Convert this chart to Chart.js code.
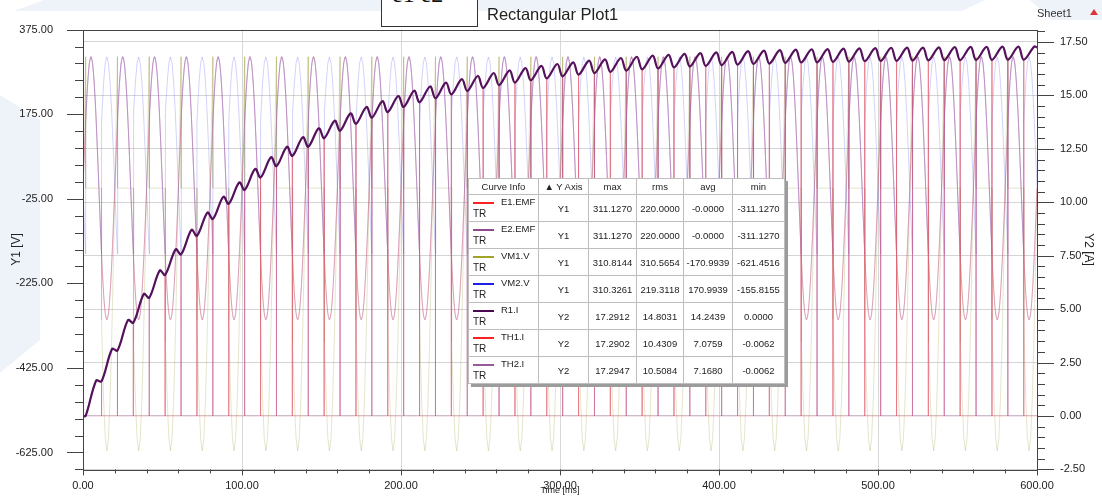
<!DOCTYPE html>
<html>
<head>
<meta charset="utf-8">
<title>Rectangular Plot1</title>
<script src="https://cdn.jsdelivr.net/npm/chart.js@4.4.1/dist/chart.umd.min.js"></script>
<style>
  html, body { margin: 0; padding: 0; background: #fff; }
  #wrap { position: relative; width: 1102px; height: 499px; overflow: hidden;
          font-family: "Liberation Sans", Arial, sans-serif; color: #222; }
  .shade { position: absolute; background: #eef3f9; }
  #plot { position: absolute; left: 0; top: 0; }
  #probe { position: absolute; left: 381px; top: -30px; width: 95px; height: 55px;
           border: 1px solid #333; background: #fff; overflow: hidden; }
  #probe span { position: absolute; left: 10px; bottom: 20px; font: 24px "Liberation Serif", serif; color: #111; line-height: 1; }
  #title { position: absolute; left: 487px; top: 5px; font-size: 16.5px; color: #222; }
  #sheet { position: absolute; left: 1037px; top: 7px; font-size: 11px; color: #333; }
  #sheetIcon { position: absolute; left: 1090px; top: 9px; width: 0; height: 0;
               border-left: 4px solid transparent; border-right: 4px solid transparent;
               border-bottom: 6px solid #d33; }
  #info { position: absolute; left: 468px; top: 178px; border-collapse: collapse; background: #fff;
          border: 1px solid #555; box-shadow: 3px 3px 0 #9c9c9c; font-size: 9.5px; color: #222;
          table-layout: fixed; }
  #info th, #info td { border: 1px solid #bdbdbd; padding: 0; text-align: center; font-weight: normal;
                       white-space: nowrap; overflow: hidden; }
  #info th { height: 15px; }
  #info td { height: 26px; }
  #info td.name { position: relative; text-align: left; }
  .swatch { position: absolute; left: 4px; top: 7px; width: 21px; height: 2px; }
  .cname { position: absolute; left: 32px; top: 1px; }
  .tr { position: absolute; left: 4px; top: 13px; font-size: 10px; }
</style>
</head>
<body>
<div id="wrap">
  <div class="shade" style="left:0;top:0;width:1000px;height:11px;clip-path:polygon(14px 11px,44px 0,985px 0,962px 11px)"></div>
  <div class="shade" style="left:1030px;top:0;width:72px;height:20px;clip-path:polygon(0 0,72px 0,72px 20px,22px 20px)"></div>
  <div class="shade" style="left:0;top:95px;width:40px;height:280px;clip-path:polygon(0 0,40px 25px,40px 245px,0 278px)"></div>
  <canvas id="plot" width="1102" height="499"></canvas>
  <div id="probe"><span>e1 e2</span></div>
  <div id="title">Rectangular Plot1</div>
  <div id="sheet">Sheet1</div>
  <div id="sheetIcon"></div>
  <table id="info"></table>
</div>
<script>
// one 20 ms mains cycle of each source/voltage waveform, [time offset ms, value V]
const PERIOD = 20;
const CYCLES = 30;
const emfCycle = [
  [0, 0], [1, 96.1], [2, 182.8], [3, 251.6], [4, 295.8], [5, 311.1], [6, 295.8], [7, 251.6],
  [8, 182.8], [9, 96.1], [10, 0], [11, -96.1], [12, -182.8], [13, -251.6], [14, -295.8],
  [15, -311.1], [16, -295.8], [17, -251.6], [18, -182.8], [19, -96.1], [20, 0]
];
// load voltage (VM2) with firing at 1.67 ms and 11.67 ms
const vm2Cycle = [
  [0, 0], [1, -96.1], [1.67, -155.5], [1.67, 155.5], [2, 182.8], [3, 251.6], [4, 295.8],
  [5, 310.3], [6, 295.8], [7, 251.6], [8, 182.8], [9, 96.1], [10, 0], [11, -96.1],
  [11.67, -155.5], [11.67, 155.5], [12, 182.8], [13, 251.6], [14, 295.8], [15, 310.3],
  [16, 295.8], [17, 251.6], [18, 182.8], [19, 96.1], [20, 0]
];
// voltage across TH1 (VM1)
const vm1Cycle = [
  [0, 0], [1, 192.2], [1.67, 310.8], [1.67, 0], [11.67, 0], [11.67, -310.8], [12, -365.6],
  [13, -503.2], [14, -591.6], [15, -621.4], [16, -591.6], [17, -503.2], [18, -365.6],
  [19, -192.2], [20, 0]
];

// R1.I ripple crests (at 8.3 ms + 10k) and dips (at the 11.67 ms + 10k commutations), A
const FIRST_FIRING = 1.67;
const CREST_OFFSET = 8.3;
const r1Peaks = [
  1.66, 3.14, 4.49, 5.71, 6.81, 7.80, 8.71, 9.52, 10.26, 10.93,
  11.56, 12.11, 12.60, 13.05, 13.46, 13.82, 14.16, 14.46, 14.73, 14.97,
  15.22, 15.42, 15.60, 15.76, 15.91, 16.05, 16.17, 16.28, 16.38, 16.47,
  16.55, 16.63, 16.69, 16.75, 16.81, 16.86, 16.90, 16.94, 16.98, 17.01,
  17.04, 17.07, 17.10, 17.12, 17.14, 17.16, 17.17, 17.19, 17.20, 17.21,
  17.23, 17.24, 17.24, 17.25, 17.26, 17.27, 17.27, 17.28, 17.28, 17.29
];
const r1Troughs = [
  1.62, 3.06, 4.36, 5.53, 6.60, 7.56, 8.43, 9.22, 9.93, 10.58,
  11.16, 11.69, 12.17, 12.60, 13.00, 13.35, 13.67, 13.96, 14.22, 14.46,
  14.68, 14.87, 15.05, 15.21, 15.35, 15.48, 15.60, 15.71, 15.80, 15.89,
  15.97, 16.04, 16.10, 16.16, 16.22, 16.26, 16.31, 16.35, 16.38, 16.41,
  16.44, 16.47, 16.49, 16.52, 16.54, 16.55, 16.57, 16.58, 16.60, 16.61,
  16.62, 16.63, 16.64, 16.65, 16.65, 16.66, 16.66, 16.67, 16.67
];
const r1End = 17.25;

// axis ticks
const timeTicks = [0, 100, 200, 300, 400, 500, 600];
const y1Ticks = [375, 175, -25, -225, -425, -625];
const y2Ticks = [17.5, 15, 12.5, 10, 7.5, 5, 2.5, 0, -2.5];

// curve info table
const curveNames = ['E1.EMF', 'E2.EMF', 'VM1.V', 'VM2.V', 'R1.I', 'TH1.I', 'TH2.I'];
const curveAxis = ['Y1', 'Y1', 'Y1', 'Y1', 'Y2', 'Y2', 'Y2'];
const curveMax = ['311.1270', '311.1270', '310.8144', '310.3261', '17.2912', '17.2902', '17.2947'];
const curveRms = ['220.0000', '220.0000', '310.5654', '219.3118', '14.8031', '10.4309', '10.5084'];
const curveAvg = ['-0.0000', '-0.0000', '-170.9939', '170.9939', '14.2439', '7.0759', '7.1680'];
const curveMin = ['-311.1270', '-311.1270', '-621.4516', '-155.8155', '0.0000', '-0.0062', '-0.0062'];
const curveColors = ['#ff2020', '#8e4a8e', '#a3a328', '#2020e0', '#4b0a50', '#ff2020', '#9a5a9a'];

function tile(cycle) {
  const pts = [];
  for (let c = 0; c < CYCLES; c++) {
    for (const [t, v] of cycle) {
      if (t === PERIOD && c < CYCLES - 1) continue;
      pts.push({ x: c * PERIOD + t, y: v });
    }
  }
  return pts;
}

function r1Current() {
  const pts = [{ x: 0, y: 0 }, { x: FIRST_FIRING, y: 0 }];
  r1Peaks.forEach((p, k) => {
    pts.push({ x: CREST_OFFSET + 10 * k, y: p });
    if (k < r1Troughs.length) pts.push({ x: FIRST_FIRING + 10 * (k + 1), y: r1Troughs[k] });
  });
  pts.push({ x: 600, y: r1End });
  return pts;
}

// each thyristor carries R1.I in alternate half cycles, zero otherwise
function thyristorCurrent(parity) {
  const pts = [{ x: 0, y: 0 }];
  for (let k = parity; k < r1Peaks.length; k += 2) {
    const s = FIRST_FIRING + 10 * k;
    const start = k === 0 ? 0 : r1Troughs[k - 1];
    pts.push({ x: s, y: 0 }, { x: s, y: start }, { x: CREST_OFFSET + 10 * k, y: r1Peaks[k] });
    if (k < r1Troughs.length) {
      pts.push({ x: s + 10, y: r1Troughs[k] }, { x: s + 10, y: 0 });
    } else {
      pts.push({ x: 600, y: r1End });
    }
  }
  if (pts[pts.length - 1].x < 600) pts.push({ x: 600, y: 0 });
  return pts;
}

const thin = { pointRadius: 0, borderWidth: 1, fill: false, tension: 0 };

Chart.defaults.font.family = '"Liberation Sans", Arial, sans-serif';
Chart.defaults.color = '#222';

const frameAndTicks = {
  id: 'frameAndTicks',
  afterDraw(chart) {
    const { ctx, chartArea: a, scales: { x, y1, y2 } } = chart;
    const px = v => Math.round(v) + 0.5;
    ctx.save();
    ctx.strokeStyle = '#444';
    ctx.lineWidth = 1;
    ctx.strokeRect(px(a.left), px(a.top), Math.round(a.right - a.left), Math.round(a.bottom - a.top));
    ctx.beginPath();
    for (let v = -665; v <= 375; v += 40) {
      const y = px(y1.getPixelForValue(v));
      const len = (375 - v) % 200 === 0 ? 16 : 8;
      ctx.moveTo(a.left - len, y); ctx.lineTo(a.left, y);
    }
    for (let i = 0; i <= 41; i++) {
      const v = -2.5 + i * 0.5;
      const y = px(y2.getPixelForValue(v));
      const len = i % 5 === 0 ? 17 : 8;
      ctx.moveTo(a.right, y); ctx.lineTo(a.right + len, y);
    }
    for (let v = 0; v <= 600; v += 20) {
      const xx = px(x.getPixelForValue(v));
      const len = v % 100 === 0 ? 6 : 4;
      ctx.moveTo(xx, a.bottom); ctx.lineTo(xx, a.bottom + len);
    }
    ctx.stroke();
    ctx.restore();
  }
};

new Chart(document.getElementById('plot'), {
  type: 'line',
  data: {
    datasets: [
      { label: 'R1.I', yAxisID: 'y2', data: r1Current(), borderColor: '#55125c',
        pointRadius: 0, borderWidth: 2.2, tension: 0.35, fill: false },
      { label: 'TH1.I', yAxisID: 'y2', data: thyristorCurrent(0), borderColor: 'rgba(235,95,105,0.38)', ...thin },
      { label: 'TH2.I', yAxisID: 'y2', data: thyristorCurrent(1), borderColor: 'rgba(165,75,160,0.32)', ...thin },
      { label: 'VM2.V', yAxisID: 'y1', data: tile(vm2Cycle), borderColor: 'rgba(110,110,240,0.3)', ...thin },
      { label: 'E1.EMF', yAxisID: 'y1', data: tile(emfCycle), borderColor: 'rgba(230,90,90,0.3)', ...thin, tension: 0.3 },
      { label: 'E2.EMF', yAxisID: 'y1', data: tile(emfCycle), borderColor: 'rgba(140,60,150,0.32)', ...thin, tension: 0.3 },
      { label: 'VM1.V', yAxisID: 'y1', data: tile(vm1Cycle), borderColor: 'rgba(170,170,90,0.3)', ...thin }
    ]
  },
  options: {
    responsive: false,
    animation: false,
    parsing: false,
    normalized: true,
    layout: { padding: { top: 28 } },
    plugins: { legend: { display: false }, tooltip: { enabled: false } },
    scales: {
      x: {
        type: 'linear', min: 0, max: 600,
        afterFit: s => { s.height = 27; },
        afterBuildTicks: s => { s.ticks = timeTicks.map(v => ({ value: v })); },
        ticks: { padding: 10, font: { size: 11 }, maxRotation: 0, autoSkip: false, callback: v => v.toFixed(2) },
        grid: { color: '#d8d8d8', drawTicks: false },
        border: { display: false },
        title: { display: true, text: 'Time [ms]', font: { size: 9 }, padding: 0 }
      },
      y1: {
        type: 'linear', position: 'left', min: -665, max: 375,
        afterFit: s => { s.width = 83; },
        afterBuildTicks: s => { s.ticks = y1Ticks.map(v => ({ value: v })); },
        ticks: { padding: 22, font: { size: 11 }, autoSkip: false, callback: v => v.toFixed(2) },
        grid: { display: false },
        border: { display: false },
        title: { display: true, text: 'Y1 [V]', font: { size: 12 }, padding: { top: 9, bottom: 0 } }
      },
      y2: {
        type: 'linear', position: 'right', min: -2.5, max: 18.08,
        afterFit: s => { s.width = 65; },
        afterBuildTicks: s => { s.ticks = y2Ticks.map(v => ({ value: v })); },
        ticks: { padding: 23, font: { size: 11 }, autoSkip: false, callback: v => v.toFixed(2) },
        grid: { color: '#d4d4d4', drawTicks: false },
        border: { display: false },
        title: { display: true, text: 'Y2 [A]', font: { size: 12 }, padding: { top: 6, bottom: 0 } }
      }
    }
  },
  plugins: [frameAndTicks]
});

// curve info table
const colWidths = [70, 50, 48, 47, 49, 52];
const table = document.getElementById('info');
let html = '<colgroup>' + colWidths.map(w => `<col style="width:${w}px">`).join('') + '</colgroup>';
html += '<tr><th>Curve Info</th><th>&#9650; Y Axis</th><th>max</th><th>rms</th><th>avg</th><th>min</th></tr>';
curveNames.forEach((name, i) => {
  html += `<tr><td class="name"><div class="swatch" style="background:${curveColors[i]}"></div>` +
          `<span class="cname">${name}</span><span class="tr">TR</span></td>` +
          `<td>${curveAxis[i]}</td><td>${curveMax[i]}</td><td>${curveRms[i]}</td>` +
          `<td>${curveAvg[i]}</td><td>${curveMin[i]}</td></tr>`;
});
table.innerHTML = html;
</script>
</body>
</html>
